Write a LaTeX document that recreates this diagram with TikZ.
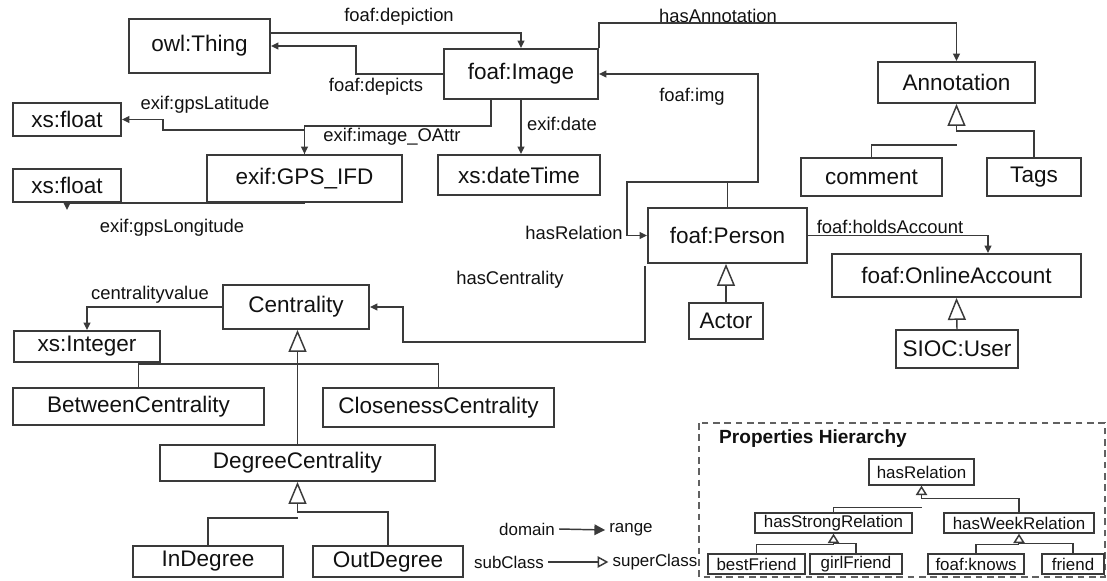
\documentclass[tikz,border=0pt]{standalone}
\usepackage{fontspec}
\setmainfont{Liberation Sans}
\usetikzlibrary{arrows.meta,calc}
\definecolor{linec}{HTML}{3A3A3A}
\definecolor{txtc}{HTML}{111111}
\tikzset{
  cls/.style={draw=linec, line width=1.4pt, text=txtc, inner sep=0pt,
    font=\fontsize{16.9}{18}\selectfont},
  pcls/.style={draw=linec, line width=1.1pt, text=txtc, inner sep=0pt,
    font=\fontsize{12.7}{14}\selectfont},
  sz/.style 2 args={minimum width=#1*0.75pt, minimum height=#2*0.75pt},
  lab/.style={text=txtc, inner sep=0pt, font=\fontsize{13.8}{15}\selectfont},
  leg/.style={text=txtc, inner sep=3pt, font=\fontsize{12.7}{14}\selectfont},
  conn/.style={draw=linec, line width=1.1pt},
  dom/.style={conn, -{Triangle[length=5.6pt,width=5.2pt]}},
  gen/.style={conn, -{Triangle[open,length=16.5pt,width=13.5pt,fill=white]}},
  gensm/.style={conn, -{Triangle[open,length=7pt,width=8.5pt,fill=white]}},
}
\begin{document}
\begin{tikzpicture}[x=0.75pt,y=-0.75pt]
\useasboundingbox (0,0) rectangle (1107,581);

% ---- class boxes ----
\node[cls,sz={141}{54}] (thing) at (199.5,46) {owl:Thing};
\node[cls,sz={154}{50}] (image) at (521,74) {foaf:Image};
\node[cls,sz={108}{33}] (xsf1) at (67,119.5) {xs:float};
\node[cls,sz={195}{47}] (gps) at (304.5,178.5) {exif:GPS\_IFD};
\node[cls,sz={162}{40}] (dt) at (519,175) {xs:dateTime};
\node[cls,sz={108}{33}] (xsf2) at (67,185.5) {xs:float};
\node[cls,sz={157}{41}] (annot) at (956.5,82.5) {Annotation};
\node[cls,sz={141}{38}] (comment) at (871.5,177) {comment};
\node[cls,sz={94}{38}] (tags) at (1034,177) {Tags};
\node[cls,sz={159}{55}] (person) at (727.5,235.5) {foaf:Person};
\node[cls,sz={74}{36}] (actor) at (726,321) {Actor};
\node[cls,sz={249}{43}] (online) at (956.5,275.5) {foaf:OnlineAccount};
\node[cls,sz={122}{38}] (sioc) at (957,349) {SIOC:User};
\node[cls,sz={146}{44}] (centr) at (296,307) {Centrality};
\node[cls,sz={146}{31}] (xsint) at (87,346.5) {xs:Integer};
\node[cls,sz={251}{37}] (between) at (138.5,406.5) {BetweenCentrality};
\node[cls,sz={231}{39}] (close) at (438.5,407.5) {ClosenessCentrality};
\node[cls,sz={275}{36}] (degree) at (297.5,463) {DegreeCentrality};
\node[cls,sz={150}{31}] (indeg) at (208,561.5) {InDegree};
\node[cls,sz={150}{31}] (outdeg) at (388,561.5) {OutDegree};

% ---- edge labels ----
\node[lab] (l1) at (399,17) {foaf:depiction};
\node[lab] (l2) at (376,87) {foaf:depicts};
\node[lab] (l3) at (718,16) {hasAnnotation};
\node[lab] (l4) at (692,97) {foaf:img};
\node[lab] (l5) at (205,105) {exif:gpsLatitude};
\node[lab] (l6) at (392,137) {exif:image\_OAttr};
\node[lab] (l7) at (562,124) {exif:date};
\node[lab] (l8) at (172,228) {exif:gpsLongitude};
\node[lab] (l9) at (574,233) {hasRelation};
\node[lab] (l10) at (890,227) {foaf:holdsAccount};
\node[lab] (l11) at (510,280) {hasCentrality};
\node[lab] (l12) at (150,295) {centralityvalue};

% ---- properties (domain -> range) ----
\draw[dom] ($(thing.east)+(0,-13)$) -| (image.north);
\draw[dom] (image.west) -- ++(-87,0) |- (thing.east);
\draw[dom] (image.north east) -- ++(0,-25) -| (annot.north);
\draw[dom] (person.north) -- ++(0,-25) -| (758,100) |- (image.east);
\draw[dom] ($(person.north)+(0,-25)$) -| (627,210) |- (person.west);
\draw[dom] ($(image.south)+(-30,0)$) -- ++(0,26) -| (gps.north);
\draw[dom] (gps.north) -- ++(0,-24) -| (163,125) |- (xsf1.east);
\draw[dom] (image.south) -- (image.south |- dt.north);
\draw[dom] (gps.south) -- (xsf2.south) -- ++(0,7);
\draw[dom] (person.east) -| ($(online.north)+(31.5,0)$);
\draw[dom] ($(person.south west)+(-2,2)$) -- ++(0,76) -| (403,320) |- (centr.east);
\draw[dom] (centr.west) -| (xsint.north);

% ---- generalisations ----
\draw[gen] (tags.north) -- ++(0,-26) -| (annot.south);
\draw[conn] (comment.north) |- ($(annot.south)+(0,41)$);
\draw[gen] (actor.north) -- (actor.north |- person.south);
\draw[gen] (sioc.north) -- (online.south);
\draw[conn] (between.north) -- ++(0,-23) -| (close.north);
\draw[gen] (degree.north) -- (degree.north |- centr.south);
\draw[gen] (outdeg.north) -- ++(0,-33) -| (degree.south);
\draw[conn] (indeg.north) |- ($(degree.south)+(0,36)$);

% ---- legend ----
\node[leg] (ldom) at (527,529) {domain};
\node[leg] (lrng) at (631,530) {range};
\draw[conn, -{Triangle[length=8pt,width=8pt]}] (ldom.east) -- (lrng.west);
\node[leg] (lsub) at (509,562) {subClass};
\node[leg] (lsup) at (655,562) {superClass};
\draw[conn, -{Triangle[open,length=8pt,width=8.5pt,fill=white]}] (lsub.east) -- (lsup.west);

% ---- properties hierarchy ----
\draw[draw=linec!80, line width=1.1pt, dash pattern=on 5pt off 3.5pt] (699,423) rectangle (1105,577);
\node[text=txtc, inner sep=0pt, font=\bfseries\fontsize{14.3}{16}\selectfont] (ptitle) at (813,439) {Properties Hierarchy};
\node[pcls,sz={105}{26}] (hasrel) at (921.5,472) {hasRelation};
\node[pcls,sz={157}{20}] (strong) at (833.5,523) {hasStrongRelation};
\node[pcls,sz={150}{20}] (week) at (1019,523) {hasWeekRelation};
\node[pcls,sz={97}{20}] (best) at (756.5,564) {bestFriend};
\node[pcls,sz={92}{20}] (girl) at (856,564) {girlFriend};
\node[pcls,sz={96}{20}] (knows) at (976,564) {foaf:knows};
\node[pcls,sz={62}{20}] (friend) at (1073,564) {friend};

\draw[gensm] (week.north) -- ++(0,-14) -| (hasrel.south);
\draw[conn] (strong.north) |- ($(hasrel.south)+(0,22)$);
\draw[gensm] (girl.north) -- ++(0,-10) -| (strong.south);
\draw[conn] (best.north) |- ($(strong.south)+(0,11)$);
\draw[gensm] (friend.north) -- ++(0,-10) -| (week.south);
\draw[conn] (knows.north) |- ($(week.south)+(0,11)$);
\end{tikzpicture}
\end{document}
